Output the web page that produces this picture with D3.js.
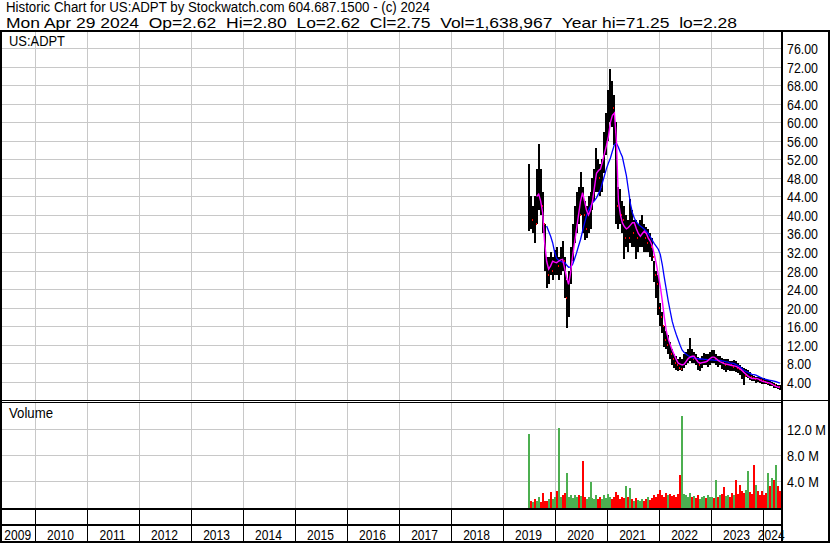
<!DOCTYPE html>
<html><head><meta charset="utf-8">
<script src="https://cdn.jsdelivr.net/npm/d3@7"></script>
<style>
html,body{margin:0;padding:0;background:#fff;}
svg{display:block;font-family:"Liberation Sans",Arial,sans-serif;}
</style>
</head><body>
<svg id="c" width="830" height="543"></svg>
<script>
// ---------------- data ----------------
const title = "Historic Chart for US:ADPT by Stockwatch.com 604.687.1500 - (c) 2024";
const subtitle = "Mon Apr 29 2024  Op=2.62  Hi=2.80  Lo=2.62  Cl=2.75  Vol=1,638,967  Year hi=71.25  lo=2.28";
const symbol = "US:ADPT";
const volumeTitle = "Volume";
const years = [2009,2010,2011,2012,2013,2014,2015,2016,2017,2018,2019,2020,2021,2022,2023,2024];
const priceTicks = [4,8,12,16,20,24,28,32,36,40,44,48,52,56,60,64,68,72,76];
const volumeTicks = [4,8,12];            // millions
const firstBarDate = "2019-06-27";       // two-week bars from the listing date
const barStepDays = 14;

const high = [51,44,42,44,50,55.3,50,45,38,31,
  31,32,31,32.5,33,31,33,34.3,31,26,
  28,33,38,42,45,46,49.2,46,43,42,
  44,45,48,50,54.4,52,51,52,58,62,
  67,71.5,69,66,60,46,45.5,43,42,40,
  39,43.4,41,39,39,38,39,40,38,37.5,
  37,36,35,30,28,27,21,19,16,15,
  14,12.5,11,10,9.5,9,9.4,9,10,10.5,
  11,13.5,11,10.5,10,9.4,9,9.5,10.2,10,
  10,10.5,10.9,10.9,10,9.5,9.5,9.1,9,9,
  9,8.5,8.5,8.7,8.5,8,7.5,7.2,7,6.8,
  6.5,6,5.5,5.2,5,5.1,5,4.8,4.8,4.5,
  4.4,4.2,4.0,3.8,3.6,3.3,3.2];
const low = [36.5,37,36,34,38,41,40,36,28,24.3,
  25,27,26,27,27,26,27,28,22,15.6,
  18,25,30,34,36,38,40,36,34.5,35,
  36,37,41,43,45,45,44,45,49,53,
  56,60,59,55,38,37,38,36,30.5,33,
  32,34,33,33,30.5,32,33,33,32,32,
  32,31,30,25.5,22,18.5,16,14.5,11.5,11,
  10,9,7.5,7,6.5,6.2,6.5,6.2,7,7.5,
  8,8.5,8,8,7.5,6.5,6.2,7,7.5,7.5,
  7.2,7.5,8,8,7.5,7.2,7.5,6.8,6.5,6.1,
  6.5,6.3,6.2,6.2,6,5.8,5.5,4.5,3.3,5,
  4.8,4.3,4.2,4.2,3.8,4,3.8,3.6,3.5,3.4,
  3.3,3.1,3.0,2.7,2.6,2.4,2.3];
const close = [42,39,40,38,45,47,42,38,30,27,
  29,28,29,30,29,30,31,30,22,24,
  26,31,36,40,42,40,45,40,37,39,
  41,43,45,47,50,48,46,50,55,58,
  62,66,63,58,42,41,40,39,35,37,
  35,38,36,36,35,35,36,37,35,34,
  35,33,31,27,25,20,18,16,13,12,
  12,10,9,8,7.5,7,6.8,8,8.5,9,
  9.5,10,9,9,8.5,7.5,7.5,8.5,9,8.5,
  9,9,9.5,9,9.3,8.5,8.5,8,7.5,7.5,
  8,7.5,7.2,7.5,7,6.8,6.5,6,5.3,5.6,
  5.8,5.0,4.8,4.5,4.6,4.4,4.3,4.2,4.0,3.8,
  3.9,3.5,3.6,3.2,3.3,2.9,2.75];
const volume = [11.3,1.0,0.8,1.2,0.9,1.5,0.8,2.1,1.0,0.9,
  1.3,2.3,1.2,1.6,2.4,12.1,1.6,1.8,2.2,5.2,
  1.6,1.8,1.4,1.9,1.5,1.8,1.7,7.1,1.6,1.2,
  1.5,3.8,1.4,1.3,1.8,1.2,1.6,1.3,1.9,1.4,
  2.0,1.5,1.3,1.6,2.3,1.9,1.2,1.6,1.4,3.2,
  1.5,2.9,1.3,1.0,1.4,1.1,0.9,1.3,1.0,1.2,
  1.5,1.1,1.4,1.8,1.5,2.0,2.6,1.9,1.6,2.2,
  1.8,2.0,1.7,1.9,1.6,2.0,4.9,14.0,2.0,1.8,
  1.6,2.1,1.5,1.7,1.4,1.8,1.3,1.6,1.7,1.4,
  1.8,1.5,1.6,1.4,4.2,1.6,1.8,2.0,3.1,1.7,
  1.9,1.6,2.2,1.8,4.2,2.0,3.4,2.4,2.2,2.6,
  5.5,2.3,2.0,6.5,3.4,2.5,1.9,2.4,1.8,2.2,
  5.2,3.2,4.4,4.2,6.5,3.3,2.4];
const maShort = [null,null,null,null,44,44.5,43,40.5,34,30,
  28.3,29,30,29.8,29.7,30,30.3,30.4,28.5,26.5,
  25,27.5,31,34,37,40,43,44.8,43,41,
  40,41,43,46,49,49.6,49.9,51.5,53.3,55,
  57,60,61.5,62,56,43,40,38.3,37.5,37,
  37.3,37.8,38.3,38.3,37,36,35.4,36,36.5,36,
  35,34.3,33.3,31.5,29.5,27,24.6,21.5,18,15,
  13.2,12,10.8,9.8,8.8,8,7.8,7.6,7.8,8.4,
  9,9.3,9.5,9.5,8.8,8.2,8,8.1,8.2,8.3,
  8.6,9,9.3,9.3,9,8.6,8.3,8.1,7.9,7.8,
  7.7,7.6,7.5,7.4,7.3,7.1,6.8,6.4,6.0,5.6,
  5.2,4.9,4.7,4.7,4.7,4.6,4.4,4.1,4.0,3.9,
  3.8,3.7,3.5,3.2,3.0,2.85,2.75];
const maLong = [null,null,null,null,null,null,null,null,null,37.6,
  36.5,35.4,34,32,30.6,30.2,30,29.8,29.7,29.2,
  28.7,28.8,29.3,30.5,31.8,33.3,34.7,36.5,38.2,39.8,
  41,41.9,42.6,43.1,43.7,44.6,45.5,47,48.5,50,
  51.2,52.3,53.8,55.2,55.5,54.6,53.5,52.5,50.5,48.5,
  45.5,42.5,40.5,39.3,38.5,38,37.6,37.3,36.9,36.5,
  36,35.3,34.5,33.8,33.2,32.6,31.5,29.3,26.5,24,
  21.4,19.2,17,15.5,14.2,13,11.8,10.8,10.3,9.9,
  9.6,9.4,9.2,9.1,9.0,8.95,8.9,8.9,8.8,8.8,
  8.7,8.7,8.7,8.65,8.6,8.6,8.6,8.5,8.4,8.3,
  8.2,8.0,8.0,7.9,7.7,7.5,7.2,6.8,6.4,6.2,
  6.0,5.8,5.6,5.5,5.4,5.2,5.0,4.8,4.6,4.5,
  4.4,4.3,4.2,4.1,4.0,3.85,3.7];

// ---------------- chart ----------------
const svg = d3.select("#c");
const GRID = "#c8c8c8", UP = "#4caf50", DOWN = "#ff0000";
const plotL = 2, plotR = 781, priceTop = 32, priceBot = 400, volTop = 403, volBot = 508;

const start = d3.isoParse(firstBarDate + "T00:00:00");
const barDates = high.map((_, i) => d3.timeDay.offset(start, barStepDays * i));

const x = d3.scaleTime()
  .domain([new Date(2010, 0, 1), new Date(2024, 0, 1)])
  .range([35.5, 763.5]);
const yP = d3.scaleLinear().domain([0, 80]).range([400.2, 29.7]);
const yV = d3.scaleLinear().domain([0, 16]).range([507, 403]);

svg.append("rect").attr("width", 830).attr("height", 543).attr("fill", "#fff");

function squeeze(sel, f) {
  sel.each(function () {
    const L = this.getComputedTextLength();
    d3.select(this).attr("textLength", L * f).attr("lengthAdjust", "spacingAndGlyphs");
  });
}
function fitTo(sel, w) {
  sel.attr("textLength", w).attr("lengthAdjust", "spacingAndGlyphs");
}

// header
fitTo(svg.append("text").attr("x", 6).attr("y", 12.2).attr("font-size", 14).attr("fill", "#000")
  .style("white-space", "pre").text(title), 424);
fitTo(svg.append("text").attr("x", 6).attr("y", 28).attr("font-size", 14).attr("fill", "#000")
  .style("white-space", "pre").text(subtitle), 731);

// grid
const yearLines = years.filter(y => y >= 2010).map(y => new Date(y, 0, 1));
const g = svg.append("g").attr("shape-rendering", "crispEdges");
g.selectAll(".vgP").data(yearLines).join("line")
  .attr("x1", d => x(d)).attr("x2", d => x(d)).attr("y1", priceTop).attr("y2", priceBot)
  .attr("stroke", GRID);
g.selectAll(".vgV").data(yearLines).join("line").attr("class", "vgV")
  .attr("x1", d => x(d)).attr("x2", d => x(d)).attr("y1", volTop).attr("y2", volBot)
  .attr("stroke", GRID);
g.selectAll(".hgP").data(priceTicks).join("line").attr("class", "hgP")
  .attr("x1", plotL).attr("x2", plotR).attr("y1", d => Math.round(yP(d)) + 0.5).attr("y2", d => Math.round(yP(d)) + 0.5)
  .attr("stroke", GRID);
g.selectAll(".hgV").data(volumeTicks).join("line").attr("class", "hgV")
  .attr("x1", plotL).attr("x2", plotR).attr("y1", d => Math.round(yV(d)) + 0.5).attr("y2", d => Math.round(yV(d)) + 0.5)
  .attr("stroke", GRID);

// clip paths
const defs = svg.append("defs");
defs.append("clipPath").attr("id", "cp").append("rect")
  .attr("x", plotL).attr("y", priceTop).attr("width", plotR - plotL).attr("height", priceBot - priceTop);
defs.append("clipPath").attr("id", "cv").append("rect")
  .attr("x", plotL).attr("y", volTop).attr("width", plotR - plotL).attr("height", volBot - volTop);

// price bars
const bars = barDates.map((d, i) => ({ d, h: high[i], l: low[i], c: close[i], v: volume[i],
  up: i === 0 ? true : close[i] >= close[i - 1] }));
const pg = svg.append("g").attr("clip-path", "url(#cp)").attr("shape-rendering", "crispEdges");
pg.selectAll(".bar").data(bars).join("rect")
  .attr("x", d => Math.round(x(d.d)) - 1).attr("width", 2)
  .attr("y", d => yP(d.h)).attr("height", d => Math.max(1, yP(d.l) - yP(d.h)))
  .attr("fill", "#000");
pg.selectAll(".tick").data(bars.filter(b => !b.up)).join("rect")
  .attr("x", d => Math.round(x(d.d)) + 1).attr("width", 1)
  .attr("y", d => yP(d.c) - 1).attr("height", 2)
  .attr("fill", DOWN);

const lg = svg.append("g").attr("clip-path", "url(#cp)");
const line = arr => d3.line().defined(d => d.v != null).x(d => x(d.d)).y(d => yP(d.v))(
  barDates.map((d, i) => ({ d, v: arr[i] })));
lg.append("path").attr("d", line(maLong)).attr("fill", "none").attr("stroke", "#0000ff").attr("stroke-width", 1.3);
lg.append("path").attr("d", line(maShort)).attr("fill", "none").attr("stroke", "#ff00ff").attr("stroke-width", 1.4);

// volume bars
const vg = svg.append("g").attr("clip-path", "url(#cv)").attr("shape-rendering", "crispEdges");
vg.selectAll("rect").data(bars).join("rect")
  .attr("x", d => Math.round(x(d.d)) - 1).attr("width", 2)
  .attr("y", d => yV(d.v)).attr("height", d => volBot - yV(d.v))
  .attr("fill", d => d.up ? UP : DOWN);

// frame
const fr = svg.append("g").attr("shape-rendering", "crispEdges").attr("fill", "#000");
fr.append("rect").attr("x", 0).attr("y", 30).attr("width", 830).attr("height", 2);
fr.append("rect").attr("x", 0).attr("y", 30).attr("width", 2).attr("height", 513);
fr.append("rect").attr("x", 828).attr("y", 30).attr("width", 2).attr("height", 513);
fr.append("rect").attr("x", 781).attr("y", 30).attr("width", 2).attr("height", 513);
fr.append("rect").attr("x", 0).attr("y", 400).attr("width", 830).attr("height", 1);
fr.append("rect").attr("x", 0).attr("y", 402).attr("width", 781).attr("height", 1);
fr.append("rect").attr("x", 0).attr("y", 508).attr("width", 781).attr("height", 2);
fr.append("rect").attr("x", 0).attr("y", 524).attr("width", 781).attr("height", 2);
fr.append("rect").attr("x", 0).attr("y", 541).attr("width", 830).attr("height", 2);
fr.selectAll(".yd").data(yearLines).join("rect")
  .attr("x", d => Math.round(x(d) - 0.5)).attr("width", 1)
  .attr("y", 510).attr("height", 31);

// labels
fitTo(svg.append("text").attr("x", 9).attr("y", 46).attr("font-size", 14).attr("fill", "#000").text(symbol), 56);
fitTo(svg.append("text").attr("x", 9).attr("y", 418).attr("font-size", 14).attr("fill", "#000").text(volumeTitle), 44);

const pl = svg.append("g").attr("font-size", 14).attr("fill", "#000");
pl.selectAll("text").data(priceTicks).join("text")
  .attr("x", 787).attr("y", d => Math.round(yP(d)) + 5.5)
  .text(d => d3.format(".2f")(d))
  .call(squeeze, 0.885);
const vl = svg.append("g").attr("font-size", 14).attr("fill", "#000");
vl.selectAll("text").data(volumeTicks).join("text")
  .attr("x", 787).attr("y", d => Math.round(yV(d)) + 5.5)
  .text(d => d3.format(".1f")(d) + " M")
  .call(squeeze, 0.91);

const yl = svg.append("g").attr("font-size", 14).attr("fill", "#000").attr("text-anchor", "middle");
yl.selectAll("text").data(years).join("text")
  .attr("x", yr => {
    const a = Math.max(plotL, x(new Date(yr, 0, 1)));
    const b = Math.min(plotR, x(new Date(yr + 1, 0, 1)));
    return (a + b) / 2 - 1;
  })
  .attr("y", 540)
  .text(yr => String(yr))
  .call(squeeze, 0.86);
</script>
</body></html>
